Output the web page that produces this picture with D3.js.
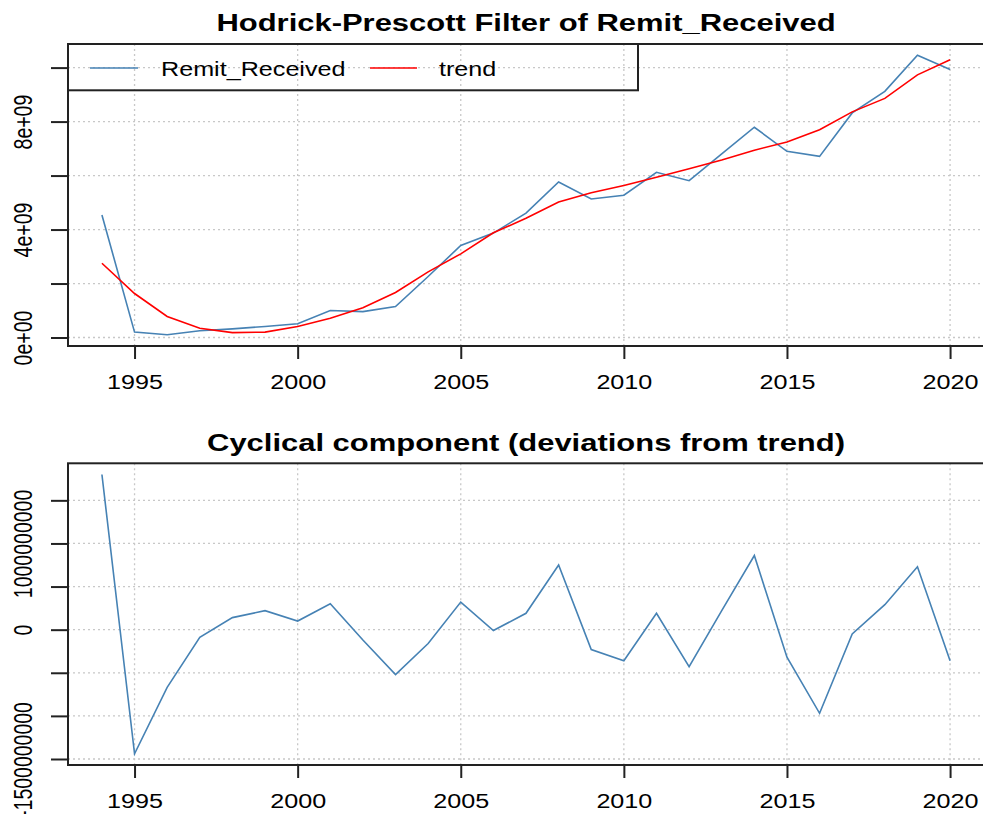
<!doctype html>
<html lang="en">
<head>
<meta charset="utf-8">
<title>Hodrick-Prescott Filter of Remit_Received</title>
<script src="https://cdn.jsdelivr.net/npm/d3@7"></script>
<style>
  body { margin: 0; background: #fff; }
  svg { display: block; }
  text { font-family: "Liberation Sans", Arial, sans-serif; fill: #000; }
</style>
</head>
<body>
<svg id="chart" width="983" height="814"></svg>
<script>
// data
var years = [1994, 1995, 1996, 1997, 1998, 1999, 2000, 2001, 2002, 2003, 2004, 2005, 2006, 2007,
             2008, 2009, 2010, 2011, 2012, 2013, 2014, 2015, 2016, 2017, 2018, 2019, 2020];

var remit = [4.54e9, 0.20e9, 0.10e9, 0.25e9, 0.32e9, 0.41e9, 0.51e9, 1.00e9, 0.96e9, 1.15e9, 2.26e9, 3.41e9, 3.87e9, 4.61e9,
             5.76e9, 5.13e9, 5.27e9, 6.12e9, 5.81e9, 6.80e9, 7.79e9, 6.90e9, 6.71e9, 8.32e9, 9.12e9, 10.46e9, 9.93e9];

var trend = [2.75e9, 1.63e9, 0.78e9, 0.34e9, 0.18e9, 0.20e9, 0.41e9, 0.71e9, 1.10e9, 1.67e9, 2.43e9, 3.10e9, 3.88e9, 4.42e9,
             5.02e9, 5.36e9, 5.63e9, 5.94e9, 6.25e9, 6.58e9, 6.94e9, 7.24e9, 7.70e9, 8.36e9, 8.86e9, 9.73e9, 10.29e9];

var cycle = [1.80e9, -1.44e9, -0.67e9, -0.09e9, 0.14e9, 0.22e9, 0.10e9, 0.30e9, -0.12e9, -0.52e9, -0.16e9, 0.32e9, -0.01e9, 0.19e9,
             0.75e9, -0.23e9, -0.36e9, 0.19e9, -0.43e9, 0.22e9, 0.86e9, -0.32e9, -0.97e9, -0.05e9, 0.29e9, 0.73e9, -0.36e9];

var xTicks = [1995, 2000, 2005, 2010, 2015, 2020];

var yTicksTop = [0, 2e9, 4e9, 6e9, 8e9, 10e9];
var yLabelsTop = ["0e+00", "", "4e+09", "", "8e+09", ""];

var yTicksBottom = [-1.5e9, -1e9, -5e8, 0, 5e8, 1e9, 1.5e9];
var yLabelsBottom = ["-1500000000", "", "", "0", "", "1000000000", ""];

var legendLabels = ["Remit_Received", "trend"];

// layout
var sx = 1.29;           // picture is stretched sideways
var left = 68, right = 984;
var panels = [
  {top: 44, bottom: 346, title: "Hodrick-Prescott Filter of Remit_Received", titleY: 30.7},
  {top: 463.3, bottom: 765, title: "Cyclical component (deviations from trend)", titleY: 450.7}
];

var pad = function(ext){
  var d = (ext[1] - ext[0]) * 0.04;
  return [ext[0] - d, ext[1] + d];
};

var x = d3.scaleLinear()
  .domain(pad(d3.extent(years)))
  .range([left, right]);

var svg = d3.select("#chart");

var lineOf = function(y, vals){
  return d3.line()
    .x(function(d, i){ return x(years[i]); })
    .y(function(d){ return y(d); })(vals);
};

var drawPanel = function(p, y, yTicks, yLabels){
  var g = svg.append("g");

  // grid
  g.append("g").selectAll("line")
    .data(xTicks).enter().append("line")
    .attr("x1", x).attr("x2", x)
    .attr("y1", p.top).attr("y2", p.bottom)
    .attr("stroke", "#c8c8c8").attr("stroke-width", 1.3).attr("stroke-dasharray", "2,3");
  g.append("g").selectAll("line")
    .data(yTicks).enter().append("line")
    .attr("x1", left).attr("x2", right)
    .attr("y1", y).attr("y2", y)
    .attr("stroke", "#c8c8c8").attr("stroke-width", 1.3).attr("stroke-dasharray", "2,3");

  // x axis
  g.append("g")
    .attr("transform", "translate(0," + p.bottom + ")")
    .call(d3.axisBottom(x).tickValues(xTicks).tickSize(13).tickSizeOuter(0).tickFormat(d3.format("d")))
    .call(function(a){
      a.select(".domain").remove();
      a.selectAll(".tick line").attr("stroke", "#222").attr("stroke-width", 2);
      a.selectAll(".tick text")
        .attr("y", null).attr("dy", null)
        .attr("font-size", 19.5)
        .attr("transform", "translate(0,42.5) scale(" + sx + ",1)");
    });

  // y axis
  g.append("g")
    .attr("transform", "translate(" + left + ",0)")
    .call(d3.axisLeft(y).tickValues(yTicks).tickSize(17).tickSizeOuter(0)
      .tickFormat(function(d, i){ return yLabels[i]; }))
    .call(function(a){
      a.select(".domain").remove();
      a.selectAll(".tick line").attr("stroke", "#222").attr("stroke-width", 2);
      a.selectAll(".tick text")
        .attr("x", null).attr("dy", null)
        .attr("text-anchor", "middle")
        .attr("font-size", 19.5)
        .attr("transform", "translate(-35.7,0) scale(" + sx + ",1) rotate(-90)");
    });

  // title
  g.append("text")
    .attr("text-anchor", "middle")
    .attr("font-size", 24).attr("font-weight", "bold")
    .attr("transform", "translate(" + ((left + right) / 2) + "," + p.titleY + ") scale(" + sx + ",1)")
    .text(p.title);

  return g;
};

// top panel
var yTop = d3.scaleLinear()
  .domain(pad(d3.extent(remit.concat(trend))))
  .range([panels[0].bottom, panels[0].top]);

var gTop = drawPanel(panels[0], yTop, yTicksTop, yLabelsTop);

gTop.append("path")
  .attr("d", lineOf(yTop, remit))
  .attr("fill", "none").attr("stroke", "steelblue").attr("stroke-width", 1.6);
gTop.append("path")
  .attr("d", lineOf(yTop, trend))
  .attr("fill", "none").attr("stroke", "red").attr("stroke-width", 1.6);

// legend
var legend = gTop.append("g");
legend.append("rect")
  .attr("x", left).attr("y", panels[0].top)
  .attr("width", 638 - left).attr("height", 90.3 - panels[0].top)
  .attr("fill", "none").attr("stroke", "#222").attr("stroke-width", 2);
var legendItems = [
  {label: legendLabels[0], color: "steelblue", x0: 90, x1: 138, tx: 161},
  {label: legendLabels[1], color: "red", x0: 370, x1: 417, tx: 439}
];
legend.selectAll("line.key").data(legendItems).enter().append("line")
  .attr("x1", function(d){ return d.x0; }).attr("x2", function(d){ return d.x1; })
  .attr("y1", 68).attr("y2", 68)
  .attr("stroke", function(d){ return d.color; }).attr("stroke-width", 1.6);
legend.selectAll("text").data(legendItems).enter().append("text")
  .attr("font-size", 19.5)
  .attr("transform", function(d){ return "translate(" + d.tx + ",76) scale(" + sx + ",1)"; })
  .text(function(d){ return d.label; });

gTop.append("rect")
  .attr("x", left).attr("y", panels[0].top)
  .attr("width", right - left).attr("height", panels[0].bottom - panels[0].top)
  .attr("fill", "none").attr("stroke", "#222").attr("stroke-width", 2);

// bottom panel
var yBot = d3.scaleLinear()
  .domain(pad(d3.extent(cycle)))
  .range([panels[1].bottom, panels[1].top]);

var gBot = drawPanel(panels[1], yBot, yTicksBottom, yLabelsBottom);

gBot.append("path")
  .attr("d", lineOf(yBot, cycle))
  .attr("fill", "none").attr("stroke", "steelblue").attr("stroke-width", 1.6);

gBot.append("rect")
  .attr("x", left).attr("y", panels[1].top)
  .attr("width", right - left).attr("height", panels[1].bottom - panels[1].top)
  .attr("fill", "none").attr("stroke", "#222").attr("stroke-width", 2);
</script>
</body>
</html>
